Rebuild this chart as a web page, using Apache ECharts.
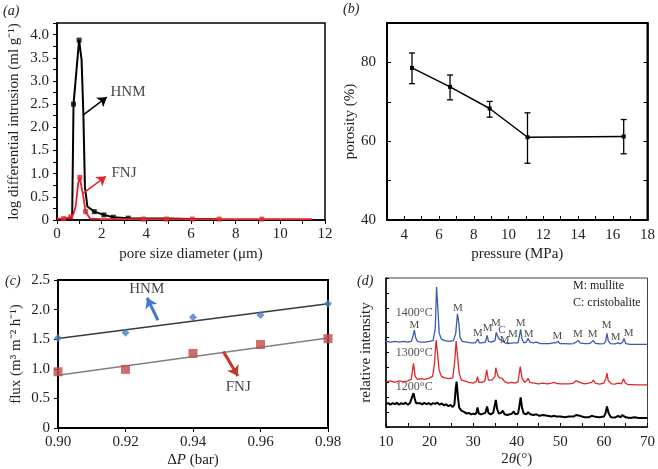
<!DOCTYPE html>
<html><head><meta charset="utf-8">
<script src="https://cdn.jsdelivr.net/npm/echarts@6/dist/echarts.min.js"></script>
<style>html,body{margin:0;padding:0;background:#fff}#c{width:658px;height:469px}</style>
</head><body><div id="c"></div>
<script>
// ---------- (a) pore size distribution ----------
const hnmX = [0, 0.3, 0.62, 0.68, 0.74, 0.99, 1.1, 1.18, 1.25, 1.36, 1.67, 2.1, 2.52, 3.19, 4.0, 5.0, 6.0, 7.15];
const hnmY = [0.02, 0.02, 0.03, 0.1, 2.5, 3.88, 3.46, 2.3, 0.72, 0.29, 0.18, 0.11, 0.06, 0.04, 0.03, 0.03, 0.02, 0.02];
const hnmMarkIdx = [4, 5, 10, 11, 12, 13];
const fnjX = [0, 0.3, 0.5, 0.62, 0.73, 0.84, 0.95, 1.02, 1.18, 1.28, 1.48, 2.0, 3.0, 3.87, 4.9, 6.06, 7.26, 9.17, 11.43];
const fnjY = [0.03, 0.03, 0.05, 0.07, 0.12, 0.3, 0.8, 0.92, 0.5, 0.18, 0.03, 0.02, 0.02, 0.02, 0.02, 0.02, 0.02, 0.02, 0.02];
const fnjMarkIdx = [1, 3, 7, 9, 13, 14, 15, 16, 17];

// ---------- (b) porosity vs pressure ----------
const pressure = [4.44, 6.63, 8.91, 11.09, 16.63];
const porosity = [78.6, 73.8, 68.3, 61.0, 61.2];
const porosityLow = [74.6, 70.5, 66.1, 54.4, 56.8];
const porosityHigh = [82.4, 76.8, 70.1, 67.2, 65.5];

// ---------- (c) flux vs pressure difference ----------
const dP = [0.90, 0.92, 0.94, 0.96, 0.98];
const fluxHNM = [1.52, 1.61, 1.87, 1.91, 2.10];
const fluxFNJ = [0.95, 0.99, 1.26, 1.41, 1.51];
const trendX = [0.90, 0.98];
const trendHNM = [1.51, 2.10];
const trendFNJ = [0.89, 1.52];

// ---------- (d) XRD patterns (2theta, relative intensity) ----------
const xrd1400 = [[10,57.5],[11,57],[12,57.5],[13,57],[14,57.5],[15,57],[15.8,57.5],[16.2,61],[16.5,65],[16.8,60],[17.2,57.5],[18,57],[19,57],[20,57.5],[20.8,58],[21.3,66],[21.6,94],[21.9,80],[22.2,63],[22.7,59],[23.5,58],[24.5,57.5],[25.5,58],[26,63],[26.4,76],[26.7,70],[27,60],[27.5,57.5],[28.5,57],[29.5,56.5],[30.5,56.5],[30.8,57.5],[31.1,59],[31.4,56.5],[32,56.5],[32.8,57],[33.2,61.5],[33.5,57.5],[34.2,57],[35,58],[35.3,63.5],[35.6,61],[36,59],[36.4,59.5],[36.8,57.5],[37.3,56.5],[38,56],[39,56.5],[39.3,57.8],[39.6,56.5],[40.3,56.5],[40.9,65.5],[41.2,59],[41.6,56.5],[42.2,57],[42.6,59.5],[43,57],[43.8,56.5],[44.5,57],[45.5,56],[46.5,56],[47.5,56],[48.3,56.5],[48.6,57.3],[49,56.5],[49.5,57.5],[49.9,56],[51,56],[52,55.8],[53,56],[53.6,57],[54.1,58],[54.5,56.5],[55.5,56],[56.5,56],[57,56.5],[57.6,58],[58,56.2],[59,55.8],[60,56],[60.4,57.5],[60.7,62.8],[61,58],[61.5,56],[62.5,55.8],[63.3,56.5],[63.8,55.8],[64.3,57],[64.6,59.5],[65,56],[66,55.5],[67,55.5],[68,55.5],[69,55.5],[70,55.5]];
const xrd1300 = [[10,30.5],[11,31],[12,30],[13,31],[14,30.5],[15,31],[15.8,32],[16.3,42.8],[16.7,34],[17.2,32],[18,32.5],[19,32],[20,33],[20.7,34],[21.1,42],[21.5,58.4],[21.8,50],[22.2,38],[22.7,34],[23.5,33],[24.5,32.5],[25.3,33],[25.7,42],[26.1,57.7],[26.4,48],[26.8,36],[27.3,31.5],[28,31],[29,30],[30,29.5],[30.7,30.5],[31,33.8],[31.3,30],[32,30],[32.7,31],[33.1,38.3],[33.5,31.5],[34.3,31.5],[35,34],[35.2,39.8],[35.6,35],[36,33],[36.7,32.7],[37.2,30.5],[38,29.5],[38.8,30],[39.2,30.5],[39.6,29.5],[40.3,30.5],[40.8,40.5],[41.2,33],[41.8,30],[42.3,31],[42.6,32.7],[43,30],[44,29.5],[45,29],[46,29.5],[47,29],[48,29.5],[48.5,30],[49.1,29.3],[49.5,30],[50,29],[51,29],[52,29],[53,29.5],[53.6,31],[54,32.3],[54.5,30],[55.5,29],[56.5,29.5],[57.2,30],[57.6,31.5],[58,29.5],[59,28.8],[60,29.5],[60.4,32],[60.7,36.1],[61,31],[61.7,29],[62.5,28.8],[63.3,29.5],[64,29],[64.5,32.3],[64.9,29.5],[65.5,28.5],[66.5,28.5],[67.5,28.3],[68.5,28.3],[70,28.3]];
const xrd1200 = [[10,15.5],[10.5,16],[11,15],[11.5,16],[12,15.3],[12.5,16.2],[13,15],[13.5,16],[14,15.4],[14.5,16.3],[15,15],[15.5,16],[15.9,17],[16.3,22.7],[16.6,19],[16.9,16],[17.3,15.2],[17.8,16],[18.3,15.2],[18.8,16.2],[19.3,15.3],[19.8,16],[20.3,15],[20.8,16],[21.3,15.5],[21.8,16.3],[22.3,15],[22.8,15.8],[23.3,14.5],[23.8,15.3],[24.3,14],[24.8,14.8],[25.3,13.5],[25.7,15],[26,26],[26.2,30.5],[26.5,20],[26.8,13],[27.3,11],[28,10],[28.5,9],[29,9.5],[29.5,8.5],[30,9],[30.5,8.5],[30.8,10],[31,13.1],[31.3,9],[31.8,8.5],[32.3,9],[32.8,9.5],[33.2,13.8],[33.5,9.5],[34,8.5],[34.6,9.5],[35.2,18.2],[35.5,12],[35.9,9],[36.4,9.5],[36.8,11],[37.2,8.5],[37.8,8],[38.4,8.5],[38.9,9],[39.3,10.4],[39.7,8.5],[40.3,9],[40.6,14],[40.9,19.8],[41.2,13],[41.6,9],[42.2,8.5],[42.6,10],[43.1,8.5],[43.8,8],[44.5,8.5],[45.2,7.5],[46,8],[47,7.5],[48,7],[48.6,7.5],[49.1,7],[49.5,8],[50,7],[51,6.5],[52,7],[53,7],[53.6,8],[54,8.5],[54.5,7.5],[55.5,6.5],[56.5,6.5],[57.2,7.5],[57.6,8.5],[58,6.8],[59,6.5],[60,7],[60.4,9.5],[60.7,13.8],[61.1,9],[61.6,6.5],[62.5,6.3],[63.3,7.5],[63.8,6.5],[64.2,8],[64.6,9],[65,6.5],[66,6],[67,6.5],[68,6],[69,6],[70,6]];
const phaseLabels = ['M','M','M','M','M','C','M','M','M','M','M','M','M','M','M','M'];
const phaseX = [16.5, 26.5, 31.1, 33.3, 35.2, 36.6, 37.2, 39.1, 40.9, 42.7, 49.3, 54.0, 57.4, 60.6, 62.7, 65.7];
const phaseY = [68.4, 80, 62.8, 66.2, 69.5, 65, 58.4, 62.2, 69.5, 62.6, 61.2, 62.2, 62.2, 68.4, 60, 63.2];
const tempLabels = ['1400°C', '1300°C', '1200°C'];
const tempY = [76.9, 50.1, 27.1];

const F = "'Liberation Serif','Times New Roman',serif";
const FS = 15;
const blk = '#000';

function axisBase(extra) {
  return Object.assign({
    axisLine: {show: true, lineStyle: {color: blk, width: 1.5}},
    axisLabel: {color: '#222', fontFamily: F, fontSize: FS},
    nameTextStyle: {color: '#222', fontFamily: F, fontSize: FS},
    splitLine: {show: false},
    nameLocation: 'middle'
  }, extra);
}
function textSeries(xi, yi, xs, ys, names, color, size, pos) {
  return {
    type: 'scatter', xAxisIndex: xi, yAxisIndex: yi, symbolSize: 1, silent: true,
    itemStyle: {color: 'rgba(0,0,0,0)'},
    data: xs.map((x, i) => ({value: [x, ys[i]], name: names[i]})),
    label: {show: true, position: pos || 'inside', formatter: '{b}', color: color, fontFamily: F, fontSize: size},
    z: 5
  };
}
const zip = (xs, ys) => xs.map((x, i) => [x, ys[i]]);

const option = {
  animation: false,
  backgroundColor: '#fff',
  grid: [
    {left: 57, top: 23, width: 268, height: 197, show: true, borderColor: blk, borderWidth: 1.5},
    {left: 387, top: 23, width: 264, height: 197, show: true, borderColor: blk, borderWidth: 2},
    {left: 58, top: 280, width: 270, height: 148, show: true, borderColor: blk, borderWidth: 2},
    {left: 386, top: 278, width: 266, height: 149, show: true, borderColor: '#444', borderWidth: 1}
  ],
  xAxis: [
    axisBase({gridIndex: 0, type: 'value', min: 0, max: 12, interval: 1, name: 'pore size diameter (μm)', nameGap: 27,
      axisTick: {length: 4, lineStyle: {color: blk}},
      axisLabel: {color: '#222', fontFamily: F, fontSize: FS, margin: 7, formatter: v => (v % 2 === 0 ? String(v) : '')}}),
    axisBase({gridIndex: 1, type: 'value', min: 3, max: 18, interval: 1, name: 'pressure (MPa)', nameGap: 27,
      axisTick: {inside: true, length: 4, lineStyle: {color: blk}},
      axisLabel: {color: '#222', fontFamily: F, fontSize: FS, margin: 8, formatter: v => (v % 2 === 0 ? String(v) : '')}}),
    axisBase({gridIndex: 2, type: 'value', min: 0.9, max: 0.98, interval: 0.02, name: '{n|Δ}{i|P}{n| (bar)}', nameGap: 25,
      nameTextStyle: {rich: {n: {fontFamily: F, fontSize: FS, color: '#222'}, i: {fontFamily: F, fontSize: FS, fontStyle: 'italic', color: '#222'}}},
      axisTick: {length: 4, lineStyle: {color: blk}},
      axisLabel: {color: '#222', fontFamily: F, fontSize: FS, margin: 7, formatter: v => v.toFixed(2)}}),
    axisBase({gridIndex: 3, type: 'value', min: 10, max: 70, interval: 5, name: '{n|2}{i|θ}{n|(°)}', nameGap: 25,
      nameTextStyle: {rich: {n: {fontFamily: F, fontSize: FS, color: '#222'}, i: {fontFamily: F, fontSize: FS, fontStyle: 'italic', color: '#222'}}},
      axisTick: {inside: true, length: 4, lineStyle: {color: blk}},
      axisLabel: {color: '#222', fontFamily: F, fontSize: FS, margin: 8, formatter: v => (v % 10 === 0 ? String(v) : '')}})
  ],
  yAxis: [
    axisBase({gridIndex: 0, type: 'value', min: 0, max: 4.25, interval: 0.25, name: 'log differential intrusion (ml g⁻¹)', nameGap: 35,
      axisTick: {length: 4, lineStyle: {color: blk}},
      axisLabel: {color: '#222', fontFamily: F, fontSize: FS, margin: 8, formatter: v => ((v * 2) % 1 === 0 ? (v === 0 ? '0' : v.toFixed(1)) : '')}}),
    axisBase({gridIndex: 1, type: 'value', min: 40, max: 90, interval: 10, name: 'porosity (%)', nameGap: 24,
      axisTick: {inside: true, length: 4, lineStyle: {color: blk}},
      axisLabel: {color: '#222', fontFamily: F, fontSize: FS, margin: 11, formatter: v => (v % 20 === 0 ? String(v) : '')}}),
    axisBase({gridIndex: 1, type: 'value', position: 'right', min: 40, max: 90, interval: 10,
      axisTick: {inside: true, length: 4, lineStyle: {color: blk}}, axisLabel: {show: false}}),
    axisBase({gridIndex: 2, type: 'value', min: 0, max: 2.5, interval: 0.5, name: 'flux (m³ m⁻² h⁻¹)', nameGap: 34,
      axisTick: {length: 4, lineStyle: {color: blk}},
      axisLabel: {color: '#222', fontFamily: F, fontSize: FS, margin: 8, formatter: v => (v === 0 ? '0' : v.toFixed(1))}}),
    axisBase({gridIndex: 3, type: 'value', min: 0, max: 100, interval: 10, name: 'relative intensity', nameGap: 12,
      axisTick: {inside: true, length: 3, lineStyle: {color: blk}}, axisLabel: {show: false}})
  ],
  series: [
    // (a)
    {type: 'line', xAxisIndex: 0, yAxisIndex: 0, data: zip(hnmX, hnmY), showSymbol: false, lineStyle: {color: blk, width: 2}, z: 3},
    {type: 'scatter', xAxisIndex: 0, yAxisIndex: 0, data: hnmMarkIdx.map(i => [hnmX[i], hnmY[i]]), symbol: 'rect', symbolSize: 5, itemStyle: {color: blk}, z: 3},
    {type: 'line', xAxisIndex: 0, yAxisIndex: 0, data: zip(fnjX, fnjY), showSymbol: false, lineStyle: {color: '#e8232b', width: 1.8}, z: 4},
    {type: 'scatter', xAxisIndex: 0, yAxisIndex: 0, data: fnjMarkIdx.map(i => [fnjX[i], fnjY[i]]), symbol: 'rect', symbolSize: 5, itemStyle: {color: '#e8232b'}, z: 4},
    {type: 'lines', coordinateSystem: 'cartesian2d', xAxisIndex: 0, yAxisIndex: 0, symbol: ['none', 'arrow'], symbolSize: 9,
      lineStyle: {color: blk, width: 1.5, opacity: 1}, data: [{coords: [[1.18, 2.27], [2.23, 2.65]]}], z: 6},
    {type: 'lines', coordinateSystem: 'cartesian2d', xAxisIndex: 0, yAxisIndex: 0, symbol: ['none', 'arrow'], symbolSize: 9,
      lineStyle: {color: '#e8232b', width: 1.5, opacity: 1}, data: [{coords: [[1.18, 0.58], [2.19, 0.94]]}], z: 6},
    textSeries(0, 0, [3.18, 3.0], [2.75, 1.01], ['HNM', 'FNJ'], '#111', FS),
    // (b)
    {type: 'line', xAxisIndex: 1, yAxisIndex: 1, data: zip(pressure, porosity), symbol: 'rect', symbolSize: 4, lineStyle: {color: blk, width: 1.5}, itemStyle: {color: blk}},
    {type: 'custom', xAxisIndex: 1, yAxisIndex: 1, data: pressure.map((p, i) => [p, porosityLow[i], porosityHigh[i]]),
      encode: {x: 0, y: [1, 2]},
      renderItem: function (params, api) {
        const x = api.value(0);
        const lo = api.coord([x, api.value(1)]), hi = api.coord([x, api.value(2)]);
        const w = 3, st = {stroke: blk, lineWidth: 1.3};
        return {type: 'group', children: [
          {type: 'line', shape: {x1: lo[0], y1: lo[1], x2: hi[0], y2: hi[1]}, style: st},
          {type: 'line', shape: {x1: lo[0] - w, y1: lo[1], x2: lo[0] + w, y2: lo[1]}, style: st},
          {type: 'line', shape: {x1: hi[0] - w, y1: hi[1], x2: hi[0] + w, y2: hi[1]}, style: st}
        ]};
      }},
    // (c)
    {type: 'line', xAxisIndex: 2, yAxisIndex: 3, data: zip(trendX, trendHNM), showSymbol: false, lineStyle: {color: '#3a3a3a', width: 1.5}},
    {type: 'line', xAxisIndex: 2, yAxisIndex: 3, data: zip(trendX, trendFNJ), showSymbol: false, lineStyle: {color: '#808080', width: 1.5}},
    {type: 'scatter', xAxisIndex: 2, yAxisIndex: 3, data: zip(dP, fluxHNM), symbol: 'diamond', symbolSize: 8, itemStyle: {color: '#4a7cc4'}, z: 4},
    {type: 'scatter', xAxisIndex: 2, yAxisIndex: 3, data: zip(dP, fluxFNJ), symbol: 'rect', symbolSize: 9, itemStyle: {color: '#c24b48'}, z: 4},
    {type: 'lines', coordinateSystem: 'cartesian2d', xAxisIndex: 2, yAxisIndex: 3, symbol: ['none', 'arrow'], symbolSize: 10,
      lineStyle: {color: '#3d7cc9', width: 3, opacity: 1}, data: [{coords: [[0.9296, 1.82], [0.9264, 2.2]]}], z: 6},
    {type: 'lines', coordinateSystem: 'cartesian2d', xAxisIndex: 2, yAxisIndex: 3, symbol: ['none', 'arrow'], symbolSize: 10,
      lineStyle: {color: '#c0392b', width: 3, opacity: 1}, data: [{coords: [[0.949, 1.29], [0.9533, 0.88]]}], z: 6},
    textSeries(2, 3, [0.9263, 0.9534], [2.35, 0.69], ['HNM', 'FNJ'], '#111', FS),
    // (d)
    {type: 'line', xAxisIndex: 3, yAxisIndex: 4, data: xrd1400, showSymbol: false, lineStyle: {color: '#3b5ca8', width: 1.3}},
    {type: 'line', xAxisIndex: 3, yAxisIndex: 4, data: xrd1300, showSymbol: false, lineStyle: {color: '#e0262b', width: 1.3}},
    {type: 'line', xAxisIndex: 3, yAxisIndex: 4, data: xrd1200, showSymbol: false, lineStyle: {color: '#000', width: 2}},
    textSeries(3, 4, phaseX, phaseY, phaseLabels, '#222', 11),
    textSeries(3, 4, [11.0, 11.0, 11.0], tempY, tempLabels, '#222', 12, 'right')
  ],
  graphic: [
    {type: 'text', left: 3, top: 4, style: {text: '(a)', font: 'italic 14px ' + F, fill: '#222'}},
    {type: 'text', left: 343, top: 2, style: {text: '(b)', font: 'italic 14px ' + F, fill: '#222'}},
    {type: 'text', left: 5, top: 274, style: {text: '(c)', font: 'italic 14px ' + F, fill: '#222'}},
    {type: 'text', left: 357, top: 274, style: {text: '(d)', font: 'italic 14px ' + F, fill: '#222'}},
    {type: 'text', left: 573, top: 280, style: {text: 'M: mullite', font: '12px ' + F, fill: '#222'}},
    {type: 'text', left: 573, top: 297, style: {text: 'C: cristobalite', font: '12px ' + F, fill: '#222'}}
  ]
};
const chart = echarts.init(document.getElementById('c'), null, {renderer: 'canvas'});
chart.setOption(option);
</script>
</body></html>
